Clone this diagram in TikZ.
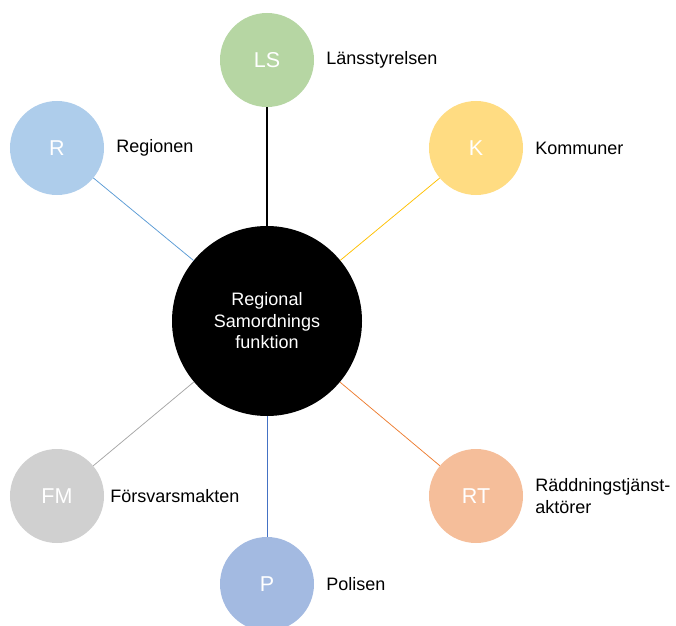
\documentclass[tikz,border=0pt]{standalone}
\usepackage{fontspec}
\setmainfont{Liberation Sans}
\usetikzlibrary{positioning}
\definecolor{lsgreen}{HTML}{B6D6A3}
\definecolor{rblue}{HTML}{AECDEB}
\definecolor{kyellow}{HTML}{FFDC82}
\definecolor{fmgray}{HTML}{D0D0D0}
\definecolor{rtorange}{HTML}{F5BE9A}
\definecolor{pblue}{HTML}{A3BAE1}
\definecolor{rline}{HTML}{5B9BD5}
\definecolor{kline}{HTML}{FFC000}
\definecolor{fmline}{HTML}{A5A5A5}
\definecolor{rtline}{HTML}{ED7D31}
\definecolor{pline}{HTML}{4472C4}

\begin{document}
\begin{tikzpicture}[x=1bp,y=-1bp,
  actor/.style={circle,minimum size=94bp,inner sep=0pt,text=white,
    font=\fontsize{21.5bp}{26bp}\selectfont},
  tag/.style={inner sep=0pt,align=left,font=\fontsize{18bp}{21.5bp}\selectfont},
  spoke/.style={line width=0.75bp}]
\useasboundingbox (0,0) rectangle (676,626);
% hub
\node[circle,fill=black,minimum size=190bp,inner sep=0pt,text=white,align=center,
  font=\fontsize{18bp}{21.5bp}\selectfont] (rsf) at (267,321)
  {Regional\\Samordnings\\funktion};
% actors
\node[actor,fill=lsgreen]  (ls) at (267,60)  {LS};
\node[actor,fill=rblue]    (r)  at (57,148)  {R};
\node[actor,fill=kyellow]  (k)  at (476,148) {K};
\node[actor,fill=fmgray]   (fm) at (57,496)  {FM};
\node[actor,fill=rtorange] (rt) at (476,496) {RT};
\node[actor,fill=pblue]    (p)  at (267,584) {P};
% names
\node[tag,right=12bp of ls] (lsname) {Länsstyrelsen};
\node[tag,right=12bp of r]  (rname)  {Regionen};
\node[tag,right=12bp of k]  (kname)  {Kommuner};
\node[tag,right=6bp of fm]  (fmname) {Försvarsmakten};
\node[tag,right=12bp of rt] (rtname) {Räddningstjänst-\\aktörer};
\node[tag,right=12bp of p]  (pname)  {Polisen};
% spokes
\draw[line width=2bp] (rsf) -- (ls);
\draw[spoke,rline]  (rsf) -- (r);
\draw[spoke,kline]  (rsf) -- (k);
\draw[spoke,fmline] (rsf) -- (fm);
\draw[spoke,rtline] (rsf) -- (rt);
\draw[spoke,pline]  (rsf) -- (p);
\end{tikzpicture}
\end{document}
